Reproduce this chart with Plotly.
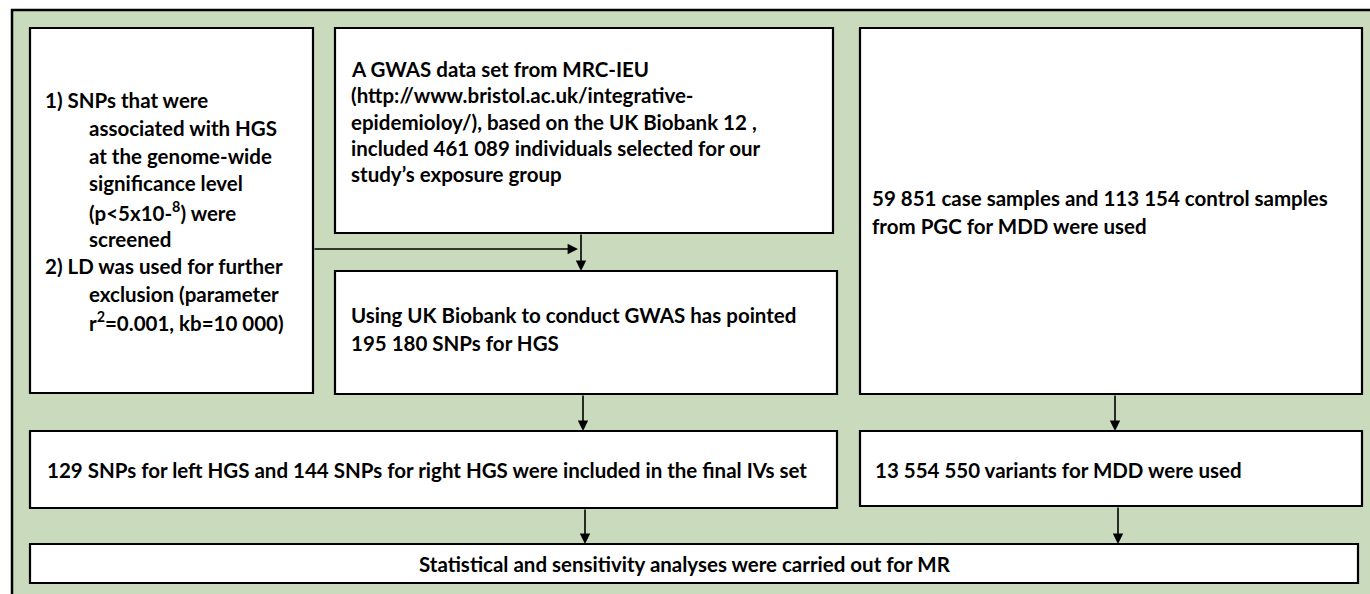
import plotly.graph_objects as go

# ---- content (text of each flowchart box) ----
box_names = ["A", "B", "C", "D", "E", "F", "G"]
box_a_lines = [
    ("1) SNPs that were", 0),
    ("associated with HGS", 1),
    ("at the genome-wide", 1),
    ("significance level", 1),
    ("(p<5x10-<sup>8</sup>) were", 1),
    ("screened", 1),
    ("2) LD was used for further", 0),
    ("exclusion (parameter", 1),
    ("r<sup>2</sup>=0.001, kb=10 000)", 1),
]
box_b_lines = [
    "A GWAS data set from MRC-IEU",
    "(http://www.bristol.ac.uk/integrative-",
    "epidemioloy/), based on the UK Biobank 12 ,",
    "included 461 089 individuals selected for our",
    "study\u2019s exposure group",
]
box_c_lines = [
    "Using UK Biobank to conduct GWAS has pointed",
    "195 180 SNPs for HGS",
]
box_d_lines = [
    "59 851 case samples and 113 154 control samples",
    "from PGC for MDD were used",
]
box_e_lines = ["129 SNPs for left HGS and 144 SNPs for right HGS were included in the final IVs set"]
box_f_lines = ["13 554 550 variants for MDD were used"]
box_g_lines = ["Statistical and sensitivity analyses were carried out for MR"]

# ---- layout geometry (pixel coordinates, y downwards) ----
boxes = {
    "A": (30, 28, 313, 393),
    "B": (335, 28, 833, 233),
    "C": (335, 271, 837, 394),
    "D": (860, 28, 1362, 394),
    "E": (30, 431, 837, 508),
    "F": (860, 431, 1362, 506),
    "G": (30, 544, 1358, 583),
}
arrows = [  # (x_tail, y_tail, x_head, y_head)
    (313, 249, 578, 249),
    (581, 233, 581, 271),
    (583, 394, 583, 431),
    (585, 508, 585, 544),
    (1115, 394, 1115, 431),
    (1118, 506, 1118, 544),
]

GREEN = "#C9DABD"
FONT = "Lato, 'Liberation Sans', Arial, sans-serif"
FS = 20.5
LH = 27.7

fig = go.Figure()
fig.add_trace(go.Scatter(x=[0, 1370], y=[0, 594], mode="markers",
                         marker=dict(opacity=0), hoverinfo="skip", showlegend=False))

shapes = []
# outer green panel
shapes.append(dict(type="rect", x0=12, y0=10, x1=1400, y1=640,
                   line=dict(color="black", width=2.5), fillcolor=GREEN, layer="below"))
for name in box_names:
    x0, y0, x1, y1 = boxes[name]
    shapes.append(dict(type="rect", x0=x0, y0=y0, x1=x1, y1=y1,
                       line=dict(color="black", width=2.2), fillcolor="white", layer="below"))

annotations = []


def add_line(text, x, y, anchor="left"):
    annotations.append(dict(x=x, y=y, xref="x", yref="y", text="<b>" + text + "</b>",
                            showarrow=False, xanchor=anchor, yanchor="middle",
                            font=dict(family=FONT, size=FS, color="black")))


# Box A: hanging indent lines
cy = 211
n = len(box_a_lines)
for i, (t, ind) in enumerate(box_a_lines):
    y = cy + (i - (n - 1) / 2) * LH
    add_line(t, 43 if ind == 0 else 87, y)

# Box B
for i, t in enumerate(box_b_lines):
    add_line(t, 349, 69 + i * 26.3)

# Box C
for i, t in enumerate(box_c_lines):
    add_line(t, 349, 315 + i * LH)

# Box D
for i, t in enumerate(box_d_lines):
    add_line(t, 870, 198 + i * LH)

add_line(box_e_lines[0], 45, 470)
add_line(box_f_lines[0], 873, 470)
add_line(box_g_lines[0], 685, 564, anchor="center")

for (xt, yt, xh, yh) in arrows:
    annotations.append(dict(x=xh, y=yh, ax=xt, ay=yt, xref="x", yref="y",
                            axref="x", ayref="y", text="", showarrow=True,
                            arrowhead=2, arrowsize=1.3, arrowwidth=1.6,
                            arrowcolor="black", standoff=0))

fig.update_layout(
    width=1370, height=594,
    margin=dict(l=0, r=0, t=0, b=0),
    paper_bgcolor="white", plot_bgcolor="white",
    xaxis=dict(range=[0, 1370], visible=False, fixedrange=True),
    yaxis=dict(range=[594, 0], visible=False, fixedrange=True),
    shapes=shapes, annotations=annotations,
    showlegend=False,
)

fig.write_html("out.html", config={"displayModeBar": False},
               post_script="document.body.style.margin='0px';document.body.style.overflow='hidden';")
